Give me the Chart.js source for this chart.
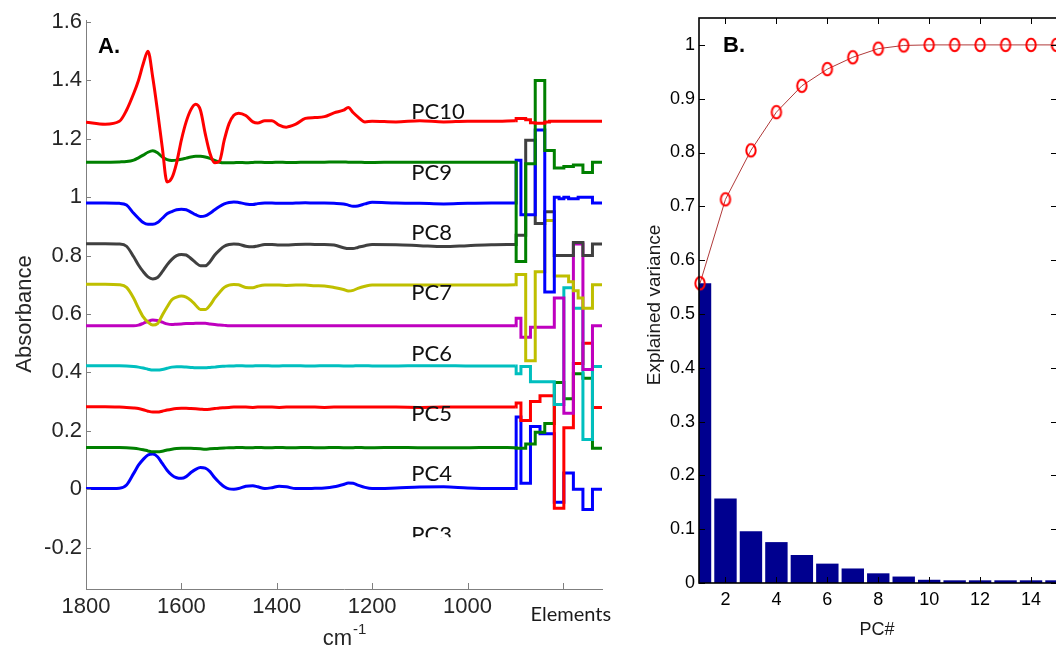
<!DOCTYPE html>
<html>
<head>
<meta charset="utf-8">
<script src="https://cdn.jsdelivr.net/npm/chart.js@4.4.1/dist/chart.umd.min.js"></script>
<style>
  html, body { margin: 0; padding: 0; background: #fff; overflow: hidden; width: 1056px; height: 648px; }
  #panelA { position: absolute; left: 0; top: 0; }
  #panelB { position: absolute; left: 630px; top: 0; }
</style>
</head>
<body>
<canvas id="panelA" width="630" height="648"></canvas>
<canvas id="panelB" width="440" height="648"></canvas>
<script>
// ---------- Panel A: offset PC loadings (spectral region + elements) ----------
const wavenumbers = [1800, 1760, 1730, 1715, 1700, 1690, 1680, 1670, 1660, 1650, 1640, 1630, 1620, 1610, 1600,
  1590, 1580, 1570, 1560, 1550, 1540, 1530, 1520, 1510, 1500, 1490, 1480, 1465, 1450, 1440, 1425, 1410, 1395,
  1380, 1360, 1340, 1320, 1300, 1280, 1260, 1250, 1240, 1230, 1215, 1200, 1150, 1100, 1050, 1000, 950, 900];

const pc1 = [0.002, 0.002, 0.003, 0.014, 0.054, 0.082, 0.102, 0.117, 0.120, 0.111, 0.088, 0.065, 0.048, 0.039, 0.037,
  0.043, 0.057, 0.068, 0.074, 0.072, 0.060, 0.039, 0.022, 0.008, 0.001, 0.000, 0.002, 0.010, 0.012, 0.008, 0.002, 0.005, 0.010,
  0.008, 0.002, 0.002, 0.003, 0.004, 0.008, 0.016, 0.021, 0.020, 0.014, 0.006, 0.002, 0.004, 0.007, 0.008, 0.004, 0.002, 0.002];
const pc2 = [0.143, 0.143, 0.143, 0.142, 0.140, 0.138, 0.135, 0.131, 0.128, 0.128, 0.130, 0.134, 0.137, 0.139, 0.140,
  0.140, 0.140, 0.139, 0.138, 0.137, 0.138, 0.139, 0.140, 0.141, 0.142, 0.142, 0.143, 0.142, 0.142, 0.143, 0.142, 0.142, 0.143,
  0.142, 0.142, 0.143, 0.142, 0.142, 0.143, 0.142, 0.142, 0.142, 0.143, 0.142, 0.142, 0.143, 0.142, 0.142, 0.142, 0.143, 0.142];
const pc3 = [0.282, 0.282, 0.281, 0.280, 0.278, 0.276, 0.272, 0.267, 0.264, 0.264, 0.267, 0.271, 0.274, 0.276, 0.277,
  0.277, 0.276, 0.275, 0.274, 0.273, 0.274, 0.276, 0.278, 0.279, 0.280, 0.281, 0.281, 0.281, 0.280, 0.281, 0.281, 0.281, 0.280,
  0.281, 0.281, 0.281, 0.281, 0.280, 0.281, 0.281, 0.281, 0.281, 0.281, 0.281, 0.281, 0.281, 0.280, 0.281, 0.281, 0.281, 0.281];
const pc4 = [0.423, 0.423, 0.423, 0.422, 0.420, 0.418, 0.415, 0.411, 0.408, 0.408, 0.410, 0.414, 0.418, 0.419, 0.419,
  0.418, 0.417, 0.416, 0.416, 0.416, 0.417, 0.418, 0.420, 0.421, 0.422, 0.422, 0.423, 0.422, 0.422, 0.423, 0.423, 0.422, 0.422,
  0.423, 0.423, 0.422, 0.422, 0.423, 0.423, 0.422, 0.422, 0.422, 0.423, 0.423, 0.422, 0.422, 0.423, 0.423, 0.422, 0.422, 0.422];
const pc5 = [0.560, 0.560, 0.560, 0.560, 0.560, 0.562, 0.568, 0.575, 0.579, 0.578, 0.572, 0.566, 0.564, 0.565, 0.566,
  0.567, 0.567, 0.568, 0.568, 0.568, 0.566, 0.564, 0.562, 0.561, 0.560, 0.560, 0.560, 0.560, 0.560, 0.560, 0.560, 0.560, 0.560,
  0.560, 0.560, 0.560, 0.560, 0.560, 0.560, 0.560, 0.560, 0.560, 0.560, 0.560, 0.560, 0.560, 0.560, 0.560, 0.560, 0.560, 0.560];
const pc6 = [0.702, 0.702, 0.700, 0.691, 0.654, 0.620, 0.590, 0.572, 0.562, 0.567, 0.596, 0.624, 0.649, 0.658, 0.662,
  0.658, 0.647, 0.630, 0.615, 0.615, 0.630, 0.654, 0.674, 0.691, 0.699, 0.701, 0.700, 0.691, 0.690, 0.695, 0.699, 0.699, 0.699,
  0.698, 0.699, 0.699, 0.697, 0.696, 0.691, 0.684, 0.679, 0.681, 0.688, 0.695, 0.699, 0.699, 0.699, 0.699, 0.699, 0.699, 0.700];
const pc7 = [0.841, 0.841, 0.840, 0.832, 0.796, 0.768, 0.745, 0.727, 0.720, 0.725, 0.745, 0.768, 0.787, 0.800, 0.804,
  0.802, 0.790, 0.776, 0.765, 0.765, 0.779, 0.802, 0.819, 0.832, 0.838, 0.840, 0.839, 0.832, 0.830, 0.833, 0.838, 0.838, 0.836,
  0.836, 0.838, 0.839, 0.838, 0.838, 0.836, 0.827, 0.824, 0.824, 0.828, 0.834, 0.838, 0.837, 0.834, 0.831, 0.834, 0.837, 0.838];
const pc8 = [0.980, 0.980, 0.979, 0.973, 0.945, 0.928, 0.913, 0.907, 0.907, 0.913, 0.928, 0.943, 0.951, 0.957, 0.959,
  0.957, 0.949, 0.940, 0.934, 0.936, 0.945, 0.957, 0.968, 0.977, 0.982, 0.984, 0.982, 0.977, 0.975, 0.978, 0.980, 0.980, 0.979,
  0.979, 0.980, 0.981, 0.980, 0.980, 0.979, 0.977, 0.973, 0.969, 0.970, 0.977, 0.983, 0.980, 0.979, 0.977, 0.979, 0.980, 0.980];
const pc9 = [1.120, 1.120, 1.121, 1.122, 1.127, 1.135, 1.144, 1.154, 1.159, 1.152, 1.138, 1.129, 1.126, 1.127, 1.130,
  1.134, 1.138, 1.140, 1.140, 1.138, 1.133, 1.126, 1.120, 1.118, 1.118, 1.118, 1.119, 1.118, 1.119, 1.120, 1.119, 1.119, 1.120,
  1.119, 1.119, 1.120, 1.120, 1.120, 1.121, 1.121, 1.120, 1.120, 1.120, 1.119, 1.119, 1.120, 1.120, 1.120, 1.120, 1.120, 1.120];
const pc10 = [1.257, 1.250, 1.260, 1.298, 1.355, 1.400, 1.457, 1.500, 1.410, 1.295, 1.170, 1.052, 1.066, 1.118, 1.196,
  1.258, 1.300, 1.318, 1.298, 1.218, 1.150, 1.118, 1.124, 1.196, 1.252, 1.281, 1.288, 1.280, 1.258, 1.254, 1.262, 1.262, 1.247,
  1.240, 1.250, 1.270, 1.273, 1.276, 1.289, 1.298, 1.307, 1.290, 1.275, 1.258, 1.260, 1.258, 1.262, 1.258, 1.260, 1.260, 1.262];

// element block: bin edges on the same axis, one value per bin
const elementEdges = [898, 888, 878, 868, 858, 848, 838, 828, 818, 808, 798, 788, 778, 768, 758, 748, 738, 728, 718];
const pc1Elements = [0.247, 0.020, 0.020, 0.215, 0.215, 0.190, 0.190, 0.190, -0.045, -0.045, 0.055, 0.055, 0.000, 0.000, -0.070, -0.070, 0.000, 0.000];
const pc2Elements = [0.140, 0.140, 0.155, 0.155, 0.195, 0.195, 0.225, 0.225, 0.365, 0.365, 0.310, 0.310, 0.395, 0.395, 0.380, 0.380, 0.140, 0.140];
const pc3Elements = [0.295, 0.235, 0.235, 0.300, 0.300, 0.320, 0.320, 0.320, -0.065, -0.065, 0.210, 0.210, 0.430, 0.430, 0.500, 0.500, 0.280, 0.280];
const pc4Elements = [0.395, 0.420, 0.420, 0.368, 0.368, 0.368, 0.368, 0.368, 0.290, 0.290, 0.690, 0.690, 0.620, 0.620, 0.170, 0.170, 0.420, 0.420];
const pc5Elements = [0.585, 0.520, 0.520, 0.555, 0.555, 0.555, 0.555, 0.555, 0.655, 0.655, 0.260, 0.260, 0.840, 0.840, 0.410, 0.410, 0.560, 0.560];
const pc6Elements = [0.735, 0.735, 0.440, 0.440, 0.745, 0.745, 0.920, 0.920, 0.730, 0.730, 0.730, 0.710, 0.680, 0.655, 0.620, 0.620, 0.700, 0.700];
const pc7Elements = [0.870, 0.870, 1.195, 1.195, 0.910, 0.910, 0.950, 0.950, 0.800, 0.800, 0.800, 0.800, 0.845, 0.845, 0.800, 0.800, 0.840, 0.840];
const pc8Elements = [1.127, 0.940, 0.940, 0.940, 1.230, 1.230, 0.675, 0.675, 1.000, 0.995, 1.000, 0.995, 0.995, 1.000, 1.000, 1.000, 0.980, 0.980];
const pc9Elements = [0.780, 0.780, 1.115, 1.115, 1.400, 1.400, 1.160, 1.160, 1.100, 1.100, 1.105, 1.105, 1.110, 1.110, 1.085, 1.085, 1.120, 1.120];
const pc10Elements = [1.270, 1.270, 1.265, 1.255, 1.253, 1.253, 1.258, 1.260, 1.260, 1.260, 1.260, 1.260, 1.260, 1.260, 1.260, 1.260, 1.260, 1.260];

const seriesNames = ['PC1', 'PC2', 'PC3', 'PC4', 'PC5', 'PC6', 'PC7', 'PC8', 'PC9', 'PC10'];
const seriesColors = ['#0000FF', '#008000', '#FF0000', '#00BFBF', '#BF00BF', '#BFBF00', '#404040', '#0000FF', '#008000', '#FF0000'];

const curveLabels = ['PC10', 'PC9', 'PC8', 'PC7', 'PC6', 'PC5', 'PC4', 'PC3'];
const curveLabelLevels = [1.295, 1.088, 0.882, 0.675, 0.468, 0.261, 0.054, -0.153];
const curveLabelWavenumber = 1118;
const curveLabelCutoff = -0.165;

const absorbanceTicks = [-0.2, 0, 0.2, 0.4, 0.6, 0.8, 1, 1.2, 1.4, 1.6];
const wavenumberTicks = [1800, 1600, 1400, 1200, 1000, 800];
const elementsTick = 800;

// ---------- Panel B: explained variance ----------
const pcNumbers = [1, 2, 3, 4, 5, 6, 7, 8, 9, 10, 11, 12, 13, 14, 15];
const explainedVariance = [0.557, 0.157, 0.096, 0.076, 0.052, 0.036, 0.027, 0.018, 0.012, 0.006, 0.005, 0.005, 0.005, 0.005, 0.005];
const cumulativeVariance = [0.557, 0.713, 0.804, 0.875, 0.924, 0.955, 0.977, 0.993, 0.999, 1.000, 1.000, 1.000, 1.000, 1.000, 1.000];
const varianceTicks = [0, 0.1, 0.2, 0.3, 0.4, 0.5, 0.6, 0.7, 0.8, 0.9, 1];
const pcTicks = [2, 4, 6, 8, 10, 12, 14];

const SANS = '"Liberation Sans", Arial, Helvetica, sans-serif';
const LABEL_FONT = 'Lato, "Open Sans", "Liberation Sans", sans-serif';
const fmt = v => String(Number(v.toFixed(2)));

// ---------- build panel A ----------
const spectra = [pc1, pc2, pc3, pc4, pc5, pc6, pc7, pc8, pc9, pc10];
const elementBlocks = [pc1Elements, pc2Elements, pc3Elements, pc4Elements, pc5Elements,
  pc6Elements, pc7Elements, pc8Elements, pc9Elements, pc10Elements];

const datasetsA = [];
for (let i = spectra.length - 1; i >= 0; i--) {
  const spec = spectra[i];
  const block = elementBlocks[i];
  datasetsA.push({
    label: seriesNames[i],
    data: wavenumbers.map((w, k) => ({ x: w, y: spec[k] })),
    borderColor: seriesColors[i], borderWidth: 3, pointRadius: 0,
    cubicInterpolationMode: 'monotone', fill: false, borderJoinStyle: 'round'
  });
  const stepData = [{ x: wavenumbers[wavenumbers.length - 1], y: spec[spec.length - 1] }]
    .concat(elementEdges.map((e, k) => ({ x: e, y: block[Math.min(k, block.length - 1)] })));
  datasetsA.push({
    label: seriesNames[i] + ' elements',
    data: stepData,
    borderColor: seriesColors[i], borderWidth: 3, pointRadius: 0,
    stepped: true, fill: false, borderJoinStyle: 'miter'
  });
}

const panelADecor = {
  id: 'panelADecor',
  afterDatasetsDraw(chart) {
    const { ctx, chartArea, scales: { x, y } } = chart;
    ctx.save();
    // inward tick marks
    ctx.strokeStyle = '#7f7f7f';
    ctx.lineWidth = 1;
    ctx.beginPath();
    absorbanceTicks.forEach(v => {
      const py = Math.round(y.getPixelForValue(v)) + 0.5;
      ctx.moveTo(chartArea.left, py); ctx.lineTo(chartArea.left + 5, py);
    });
    wavenumberTicks.forEach(v => {
      const px = Math.round(x.getPixelForValue(v)) + 0.5;
      ctx.moveTo(px, chartArea.bottom); ctx.lineTo(px, chartArea.bottom - 6);
    });
    ctx.stroke();

    // curve labels
    ctx.save();
    ctx.beginPath();
    ctx.rect(0, 0, chart.width, y.getPixelForValue(curveLabelCutoff));
    ctx.clip();
    ctx.fillStyle = '#111';
    ctx.font = '22px ' + LABEL_FONT;
    ctx.textAlign = 'left';
    ctx.textBaseline = 'middle';
    curveLabels.forEach((t, k) => {
      ctx.fillText(t, x.getPixelForValue(curveLabelWavenumber), y.getPixelForValue(curveLabelLevels[k]) + 1);
    });
    ctx.restore();

    // panel letter
    ctx.fillStyle = '#000';
    ctx.font = 'bold 22px ' + SANS;
    ctx.textAlign = 'left';
    ctx.textBaseline = 'alphabetic';
    ctx.fillText('A.', 98, 53);

    // "Elements" label under the element block
    ctx.fillStyle = '#1a1a1a';
    ctx.font = '20px ' + LABEL_FONT;
    ctx.textAlign = 'center';
    ctx.fillText('Elements', x.getPixelForValue(elementsTick) + 8, 621);

    // axis titles
    ctx.fillStyle = '#262626';
    ctx.font = '22px ' + SANS;
    ctx.textAlign = 'left';
    const cx = (chartArea.left + chartArea.right) / 2;
    const cmW = ctx.measureText('cm').width;
    ctx.font = '15px ' + SANS;
    const supW = ctx.measureText('-1').width;
    const startX = cx - (cmW + supW) / 2;
    ctx.font = '22px ' + SANS;
    ctx.fillText('cm', startX, 645);
    ctx.font = '15px ' + SANS;
    ctx.fillText('-1', startX + cmW + 1, 634);

    ctx.translate(25, 314);
    ctx.rotate(-Math.PI / 2);
    ctx.font = '22px ' + SANS;
    ctx.textAlign = 'center';
    ctx.textBaseline = 'middle';
    ctx.fillText('Absorbance', 0, 0);
    ctx.restore();
  }
};

new Chart(document.getElementById('panelA'), {
  type: 'line',
  data: { datasets: datasetsA },
  options: {
    responsive: false, animation: false, events: [],
    layout: { padding: { left: 0, top: 20, right: 28, bottom: 0 } },
    plugins: { legend: { display: false }, tooltip: { enabled: false } },
    scales: {
      x: {
        type: 'linear', reverse: true, min: 718, max: 1800,
        afterBuildTicks: s => { s.ticks = wavenumberTicks.map(v => ({ value: v })); },
        afterFit: s => { s.height = 59; },
        grid: { display: false, drawTicks: false, tickLength: 0 },
        border: { display: true, color: '#7f7f7f', width: 1 },
        ticks: {
          padding: 5, color: '#262626', maxRotation: 0, autoSkip: false,
          font: { family: SANS, size: 22 },
          callback: v => (v === elementsTick ? '' : String(v))
        }
      },
      y: {
        type: 'linear', min: -0.342, max: 1.607,
        afterBuildTicks: s => { s.ticks = absorbanceTicks.map(v => ({ value: v })); },
        afterFit: s => { s.width = 86; },
        grid: { display: false, drawTicks: false, tickLength: 0 },
        border: { display: true, color: '#7f7f7f', width: 1 },
        ticks: {
          padding: 4, color: '#262626', autoSkip: false,
          font: { family: SANS, size: 22 },
          callback: v => fmt(v)
        }
      }
    }
  },
  plugins: [panelADecor]
});

// ---------- build panel B ----------
function ellipseMarker() {
  const c = document.createElement('canvas');
  c.width = 16; c.height = 18;
  const g = c.getContext('2d');
  g.strokeStyle = '#FF0000';
  g.lineWidth = 2;
  g.beginPath();
  g.ellipse(8, 9, 4.7, 6.2, 0, 0, Math.PI * 2);
  g.stroke();
  return c;
}

const panelBDecor = {
  id: 'panelBDecor',
  afterDraw(chart) {
    const { ctx, chartArea: a, scales: { x, y } } = chart;
    ctx.save();
    ctx.strokeStyle = '#000';
    ctx.lineWidth = 1;
    ctx.beginPath();
    varianceTicks.forEach(v => {
      const py = Math.round(y.getPixelForValue(v)) + 0.5;
      ctx.moveTo(a.left, py); ctx.lineTo(a.left + 6, py);
      ctx.moveTo(a.right, py); ctx.lineTo(a.right - 6, py);
    });
    pcTicks.forEach(v => {
      const px = Math.round(x.getPixelForValue(v)) + 0.5;
      ctx.moveTo(px, a.top); ctx.lineTo(px, a.top + 6);
      ctx.moveTo(px, a.bottom); ctx.lineTo(px, a.bottom - 6);
    });
    ctx.stroke();
    ctx.lineWidth = 1.6;
    ctx.strokeRect(a.left, a.top, a.right - a.left, a.bottom - a.top);

    ctx.fillStyle = '#000';
    ctx.font = 'bold 22px ' + SANS;
    ctx.textAlign = 'left';
    ctx.textBaseline = 'alphabetic';
    ctx.fillText('B.', 93, 52);

    ctx.fillStyle = '#1a1a1a';
    ctx.font = '18px ' + SANS;
    ctx.textAlign = 'center';
    ctx.fillText('PC#', 247, 635);

    ctx.translate(25, 305);
    ctx.rotate(-Math.PI / 2);
    ctx.font = '19px ' + SANS;
    ctx.textBaseline = 'middle';
    ctx.fillText('Explained variance', 0, 0);
    ctx.restore();
  }
};

new Chart(document.getElementById('panelB'), {
  type: 'bar',
  data: {
    datasets: [
      {
        type: 'line', label: 'Cumulative',
        data: pcNumbers.map((n, i) => ({ x: n, y: cumulativeVariance[i] })),
        borderColor: '#B03A3A', borderWidth: 1, pointStyle: ellipseMarker(),
        pointRadius: 6, clip: false, order: 0, fill: false
      },
      {
        type: 'bar', label: 'Explained',
        data: pcNumbers.map((n, i) => ({ x: n, y: explainedVariance[i] })),
        backgroundColor: '#00008F', borderWidth: 0,
        barPercentage: 0.88, categoryPercentage: 1, order: 1
      }
    ]
  },
  options: {
    responsive: false, animation: false, events: [],
    layout: { padding: { left: 0, top: 18, right: 13, bottom: 0 } },
    plugins: { legend: { display: false }, tooltip: { enabled: false } },
    scales: {
      x: {
        type: 'linear', min: 0.96, max: 15.02, offset: false,
        afterBuildTicks: s => { s.ticks = pcTicks.map(v => ({ value: v })); },
        afterFit: s => { s.height = 65; },
        grid: { display: false, drawTicks: false, tickLength: 0 },
        border: { display: false },
        ticks: { padding: 6, color: '#000', maxRotation: 0, autoSkip: false, font: { family: SANS, size: 18 } }
      },
      y: {
        type: 'linear', min: 0, max: 1.05,
        afterBuildTicks: s => { s.ticks = varianceTicks.map(v => ({ value: v })); },
        afterFit: s => { s.width = 69; },
        grid: { display: false, drawTicks: false, tickLength: 0 },
        border: { display: false },
        ticks: { padding: 4, color: '#000', autoSkip: false, font: { family: SANS, size: 18 }, callback: v => fmt(v) }
      }
    }
  },
  plugins: [panelBDecor]
});
</script>
</body>
</html>
